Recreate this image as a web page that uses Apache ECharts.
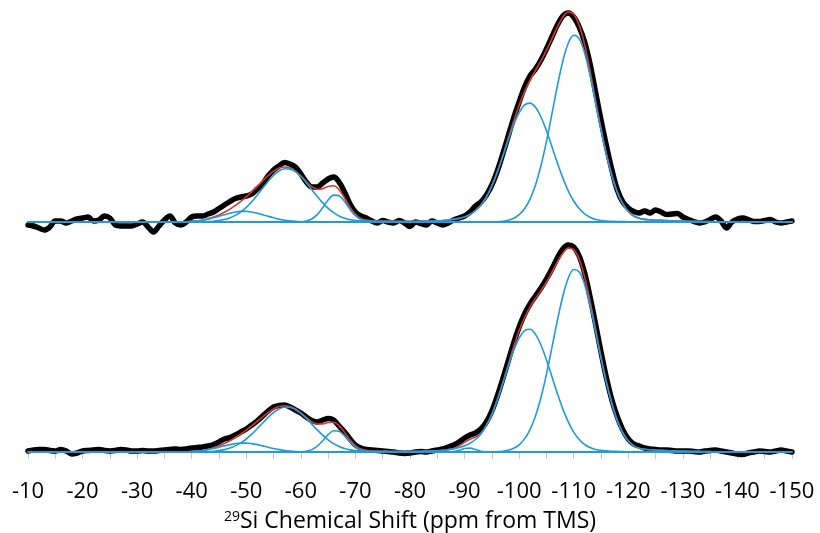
<!DOCTYPE html>
<html>
<head>
<meta charset="utf-8">
<script src="https://cdn.jsdelivr.net/npm/echarts@6/dist/echarts.min.js"></script>
<style>
  html, body { margin: 0; padding: 0; background: #ffffff; }
  #chart { width: 820px; height: 533px; }
</style>
</head>
<body>
<div id="chart"></div>
<script>
// 29Si MAS NMR spectra (upper and lower sample), experimental trace, total fit
// and deconvoluted component peaks. Every array is sampled every 1 ppm,
// starting at the shift given by its *Start constant and running upfield.

const FONT = '"Open Sans", "Liberation Sans", sans-serif';
const axisMin = -150;
const axisMax = -10;
const axisStep = 10;

// ---------- upper spectrum ----------
const upperExpStart = -10;
const upperExp = [
  -3, -4, -6, -8, -5, 1, 1, -1, 1, 3,
  4, 5, 1, 2, 6, 4, -3, -4, -4, -4,
  -2, 0, -5, -10, -4, 2, 6, -1, -3, 0,
  5, 6, 6, 8, 10, 13.5, 17, 20.5, 23.5, 25,
  26, 28, 33, 38, 46, 52, 56, 59.5, 58, 55,
  48, 40, 35, 35, 39, 43, 45, 40, 30, 18,
  10, 6, 4, 1, -1, 1.5, 0, -1, 1.5, -1,
  -4.5, 0, -1.5, -3, 1, -1, -3, -1, 2, 4,
  6, 10, 16, 20, 27, 37, 51, 68, 86, 104,
  120, 135, 146, 153, 162, 173, 185, 197, 206, 209,
  205, 195, 180, 158, 130, 102, 76, 52, 32, 20,
  14, 10.5, 9, 11, 9, 12, 10, 7.5, 8, 8.5,
  5, 2.5, 0.5, -1, 0, 2.5, 5, 1, -6, 0,
  3, 4, 2.5, 0.5, 0.5, 1.5, 2.5, 0, -1, 0,
  1
];

const upperFitStart = -10;
const upperFit = [
  0, 0, 0, 0, 0, 0, 0, 0, 0, 0,
  0, 0, 0, 0, 0, 0, 0, 0, 0, 0,
  0, 0, 0, 0, 0, 0, 0, 0, 0.2, 0.3,
  0.6, 1.1, 1.8, 3.3, 5.0, 7.1, 9.8, 12.9, 16.6, 20.7,
  25.2, 30.3, 35.6, 41.1, 46.3, 50.8, 53.9, 55.0, 54.0, 50.9,
  46.1, 40.5, 35.4, 32.8, 33.4, 35.5, 36.2, 32.3, 24.2, 14.9,
  7.8, 3.5, 1.9, 1.3, 1.0, 1.1, 0.95, 0.8, 0.7, 0.7,
  0.75, 0.7, 0.8, 0.9, 1.0, 1.2, 1.5, 2.0, 2.6, 3.6,
  5.0, 7.5, 11.5, 17, 25, 36.1, 50.2, 66.4, 83.8, 100.9,
  116.8, 130.4, 141.8, 151.7, 161.3, 171.6, 183.2, 195.0, 204.9, 210.0,
  207.8, 196.7, 177.1, 151.1, 121.7, 93.5, 68.0, 46.7, 30.0, 18.4,
  10.8, 6.0, 3.8, 2.6, 2.1, 1.8, 1.6, 1.4, 1.2, 1.0,
  0.9, 0.8, 0.7, 0.6, 0.5, 0.4, 0, 0, 0, 0,
  0, 0, 0, 0, 0, 0, 0, 0, 0, 0,
  0
];

const upperPeak50Start = -38;
const upperPeak50 = [0.2, 0.3, 0.6, 1.1, 1.8, 2.9, 4.2, 5.7, 7.3, 8.8, 10.0, 10.6,
  10.6, 10.0, 8.8, 7.3, 5.7, 4.2, 2.9, 1.8, 1.1, 0.6, 0.3, 0.2];

const upperPeak57Start = -43;
const upperPeak57 = [0.4, 0.8, 1.4, 2.5, 4.1, 6.6, 10.1, 14.6, 20.3, 26.8, 33.8, 40.6,
  46.6, 51.0, 53.2, 52.9, 50.3, 45.5, 39.3, 32.4, 25.4, 19.1, 13.6, 9.3, 6.0, 3.7,
  2.2, 1.5, 1.0, 0.7, 0.5, 0.4, 0.3, 0.2, 0.1];

const upperPeak66Start = -60;
const upperPeak66 = [0.3, 1.0, 3.0, 7.4, 14.3, 21.9, 26.9, 26.3, 20.5, 12.7, 6.3, 2.5,
  1.2, 0.8, 0.6, 0.5, 0.4, 0.3, 0.25, 0.2, 0.15];

const upperPeak102Start = -75;
const upperPeak102 = [0.3, 0.35, 0.4, 0.45, 0.5, 0.6, 0.7, 0.8, 0.9, 1.0, 1.2, 1.5,
  2.0, 2.6, 3.6, 5.0, 7.5, 11.5, 17, 25, 36.1, 49.9, 65.6, 82.0, 97.2, 109.5, 117.1,
  118.9, 114.7, 105.0, 91.3, 75.4, 59.2, 44.1, 31.2, 21.0, 13.4, 8.1, 4.7, 2.6, 1.5,
  1.0, 0.7, 0.5, 0.4, 0.3];

const upperPeak110Start = -96;
const upperPeak110 = [0.3, 0.8, 1.8, 3.7, 7.3, 13.3, 22.9, 37.0, 56.3, 80.3, 107.8,
  135.8, 160.8, 178.8, 186.8, 183.3, 169.0, 146.4, 119.1, 92, 67, 46, 29.5, 18, 10.5,
  6.0, 3.8, 2.6, 2.1, 1.8, 1.6, 1.4, 1.2, 1.0, 0.9, 0.8, 0.7, 0.6, 0.5, 0.4];

// ---------- lower spectrum ----------
const lowerExpStart = -10;
const lowerExp = [
  1, 2, 2.5, 2.5, 1.5, 1, 2.5, 1, -2, -1,
  1, 1.5, 2, 2.5, 1.5, 1, 1.5, 2.5, 2, 1,
  1, 1.5, 1, 1, 1.5, 2, 2.5, 3, 2.5, 3,
  4, 4.5, 5, 6, 7.5, 10, 13, 14.5, 17, 20,
  23, 27, 31, 36, 41, 45, 46.5, 47, 45, 42,
  39, 35, 31.5, 30, 32, 33.5, 32, 26, 20, 13,
  7, 4, 2.5, 2, 1.5, 1, 0.5, 0, -1, -1.5,
  -1, 0, 0.5, 0, 1, 2, 3, 5, 7, 10,
  14, 17, 19, 23, 30, 41, 56, 73, 91, 109,
  125, 138, 148, 156, 164, 173, 183, 194, 203, 207,
  205, 196, 179, 155, 128, 100, 74, 52, 35, 22,
  13, 8, 6, 4, 3, 2.5, 2, 2, 1.5, 1,
  1, 1, 0.5, 0, 1, 1.5, 2, 1, 0, -1,
  -2, -2.5, -1, 0, 1, 0.5, 0, 1, 2, 1,
  0
];

const lowerFitStart = -10;
const lowerFit = [
  0, 0, 0, 0, 0, 0, 0, 0, 0, 0,
  0, 0, 0, 0, 0, 0, 0, 0, 0, 0,
  0, 0, 0, 0, 0, 0, 0, 0, 0.2, 0.3,
  0.5, 0.9, 1.5, 2.8, 4.3, 6.2, 8.5, 11.3, 14.5, 18.0,
  21.9, 26.2, 30.7, 35.1, 39.4, 43.0, 45.4, 46.3, 45.5, 43.0,
  39.1, 34.6, 30.3, 28.0, 28.1, 29.5, 29.7, 26.4, 19.7, 12.2,
  6.4, 2.9, 1.6, 1.15, 0.85, 0.95, 0.8, 0.75, 0.65, 0.65,
  0.7, 0.7, 0.8, 0.95, 1.1, 1.3, 1.75, 2.45, 3.6, 6.1,
  9.7, 12.7, 14.9, 18.8, 26.7, 37.65, 52.5, 69.4, 87.5, 105.2,
  121.2, 134.5, 145.1, 153.6, 161.5, 169.9, 179.6, 189.9, 198.8, 203.9,
  202.4, 192.8, 175.1, 150.9, 123.2, 95.4, 70.1, 48.8, 31.6, 19.4,
  11.3, 6.2, 3.8, 2.7, 2.2, 1.9, 1.6, 1.4, 1.2, 1.0,
  0.9, 0.8, 0.7, 0.6, 0.5, 0.4, 0, 0, 0, 0,
  0, 0, 0, 0, 0, 0, 0, 0, 0, 0,
  0
];

const lowerPeak50Start = -38;
const lowerPeak50 = [0.2, 0.3, 0.5, 0.9, 1.5, 2.4, 3.5, 4.8, 6.1, 7.4, 8.4, 8.9,
  8.9, 8.4, 7.4, 6.1, 4.8, 3.5, 2.4, 1.5, 0.9, 0.5, 0.3, 0.2];

const lowerPeak57Start = -43;
const lowerPeak57 = [0.4, 0.8, 1.4, 2.4, 3.9, 6.1, 9.1, 13.0, 17.8, 23.3, 29.0, 34.6,
  39.5, 43.0, 44.8, 44.6, 42.5, 38.6, 33.6, 27.9, 22.1, 16.8, 12.2, 8.4, 5.6, 3.5,
  2.1, 1.4, 0.9, 0.6, 0.45, 0.35, 0.25, 0.15, 0.1];

const lowerPeak66Start = -60;
const lowerPeak66 = [0.2, 0.8, 2.4, 5.9, 11.3, 17.3, 21.3, 20.8, 16.2, 10.1, 5.0, 2.0,
  1.0, 0.7, 0.5, 0.4, 0.3, 0.25, 0.2, 0.15, 0.1];

const lowerPeak91Start = -86;
const lowerPeak91 = [0.05, 0.15, 0.5, 1.7, 3.5, 3.9, 2.4, 0.8, 0.2, 0.05];

const lowerPeak102Start = -75;
const lowerPeak102 = [0.3, 0.35, 0.4, 0.45, 0.5, 0.6, 0.7, 0.8, 0.95, 1.1, 1.3, 1.7,
  2.3, 3.1, 4.4, 6.2, 8.8, 12.5, 18, 26.5, 37.6, 52.1, 68.6, 85.7, 101.5, 114.0, 121.4,
  122.7, 117.6, 107.0, 92.2, 75.5, 58.6, 43.1, 30.1, 19.9, 12.5, 7.5, 4.4, 2.6, 1.6,
  1.1, 0.8, 0.6, 0.4, 0.3];

const lowerPeak110Start = -96;
const lowerPeak110 = [0.4, 0.8, 1.8, 3.7, 7.2, 13.1, 22.4, 36.0, 54.5, 77.7, 104.1,
  131.3, 155.7, 173.8, 182.5, 180.3, 167.6, 146.5, 120.6, 93.8, 69, 48, 31, 19, 11,
  6.2, 3.8, 2.7, 2.2, 1.9, 1.6, 1.4, 1.2, 1.0, 0.9, 0.8, 0.7, 0.6, 0.5, 0.4];

// zero line drawn under each spectrum
const baselineShift = [axisMax, axisMin];
const baselineLevel = [0, 0];

// ---------- styling ----------
const EXP_COLOR = '#000000';
const FIT_COLOR = '#d8352c';
const PEAK_COLOR = '#1f9ade';

function toPoints(start, values) {
  return values.map((v, i) => [start - i, v]);
}

function lineSeries(name, grid, data, color, width, z) {
  return {
    name: name,
    type: 'line',
    xAxisIndex: grid,
    yAxisIndex: grid,
    data: data,
    showSymbol: false,
    smooth: 0.35,
    lineStyle: { color: color, width: width, cap: 'round', join: 'round' },
    z: z,
    silent: true
  };
}

function spectrumSeries(grid, exp, expStart, fit, fitStart, peaks) {
  const list = [];
  list.push(lineSeries('Experimental', grid, toPoints(expStart, exp), EXP_COLOR, 5.5, 1));
  list.push(lineSeries('Fit', grid, toPoints(fitStart, fit), FIT_COLOR, 1.6, 2));
  list.push(lineSeries('Baseline', grid,
    baselineShift.map((s, i) => [s, baselineLevel[i]]), PEAK_COLOR, 1.8, 3));
  peaks.forEach(p => {
    list.push(lineSeries('Component', grid, toPoints(p[0], p[1]), PEAK_COLOR, 1.6, 3));
  });
  return list;
}

const series = [].concat(
  spectrumSeries(0, upperExp, upperExpStart, upperFit, upperFitStart, [
    [upperPeak50Start, upperPeak50],
    [upperPeak57Start, upperPeak57],
    [upperPeak66Start, upperPeak66],
    [upperPeak102Start, upperPeak102],
    [upperPeak110Start, upperPeak110]
  ]),
  spectrumSeries(1, lowerExp, lowerExpStart, lowerFit, lowerFitStart, [
    [lowerPeak50Start, lowerPeak50],
    [lowerPeak57Start, lowerPeak57],
    [lowerPeak66Start, lowerPeak66],
    [lowerPeak91Start, lowerPeak91],
    [lowerPeak102Start, lowerPeak102],
    [lowerPeak110Start, lowerPeak110]
  ])
);

const chart = echarts.init(document.getElementById('chart'), null, { renderer: 'canvas' });

const shiftAxisBase = {
  type: 'value',
  min: axisMin,
  max: axisMax,
  interval: axisStep,
  inverse: true
};

chart.setOption({
  animation: false,
  backgroundColor: '#ffffff',
  title: {
    text: '{sup|29}Si Chemical Shift (ppm from TMS)',
    left: 'center',
    top: 505,
    textStyle: {
      fontFamily: FONT,
      fontSize: 23,
      fontWeight: 'normal',
      color: '#000000',
      rich: {
        sup: { fontFamily: FONT, fontSize: 14, color: '#000000', verticalAlign: 'top', lineHeight: 16, padding: [0, 0, 10, 0] }
      }
    }
  },
  grid: [
    { left: 28, right: 28, top: 7, height: 230 },
    { left: 28, right: 28, top: 237, height: 230 }
  ],
  xAxis: [
    Object.assign({}, shiftAxisBase, { gridIndex: 0, show: false }),
    Object.assign({}, shiftAxisBase, {
      gridIndex: 1,
      axisLine: { show: true, onZero: true, lineStyle: { color: '#bfbfbf', width: 1 } },
      axisTick: { show: true, length: 7, lineStyle: { color: '#c8c8c8', width: 1 } },
      minorTick: { show: true, splitNumber: 2, length: 7, lineStyle: { color: '#c8c8c8', width: 1 } },
      splitLine: { show: false },
      axisLabel: {
        margin: 14,
        fontFamily: FONT,
        fontSize: 22,
        color: '#000000',
        showMinLabel: true,
        showMaxLabel: true
      }
    })
  ],
  yAxis: [
    { type: 'value', gridIndex: 0, min: -15, max: 215, show: false },
    { type: 'value', gridIndex: 1, min: -15, max: 215, show: false }
  ],
  series: series
});
</script>
</body>
</html>
